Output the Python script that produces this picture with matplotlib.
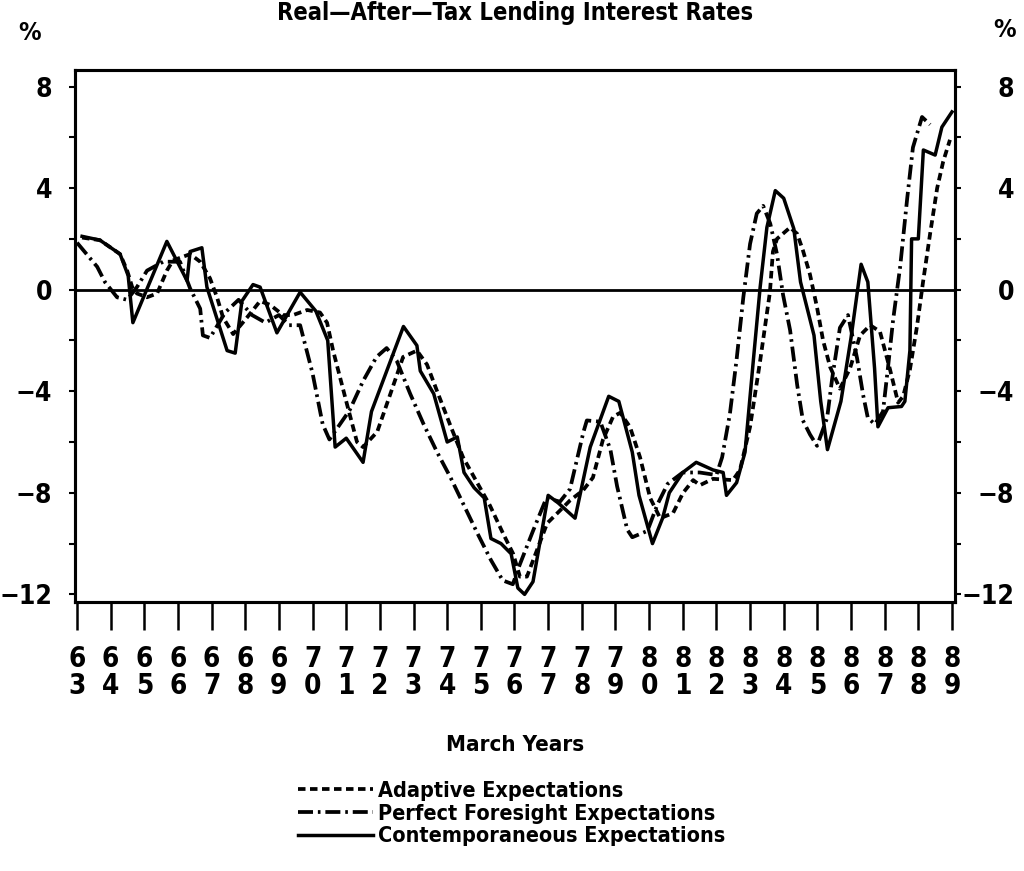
import matplotlib
matplotlib.use('Agg')
import matplotlib.pyplot as plt
from matplotlib import font_manager
from matplotlib.ticker import FixedLocator, FixedFormatter

plt.rcParams['font.family'] = ['Liberation Sans Narrow', 'DejaVu Sans']
plt.rcParams['font.weight'] = 'bold'
plt.rcParams['font.stretch'] = 'condensed'

# Contemporaneous expectations (solid)
cont_year = [63.15, 63.68, 64.28, 64.52, 64.66, 65.67, 66.27, 66.36, 66.71, 66.86,
             67.46, 67.7, 67.9, 68.23, 68.44, 68.94, 69.63, 70.1, 70.45, 70.67,
             71.0, 71.5, 71.75, 72.7, 73.1, 73.2, 73.6, 74.0, 74.3, 74.5,
             74.8, 75.1, 75.3, 75.6, 75.9, 76.1, 76.3, 76.55, 77.0, 77.3,
             77.8, 78.25, 78.8, 79.1, 79.5, 79.7, 80.1, 80.4, 80.6, 81.0,
             81.4, 81.9, 82.2, 82.3, 82.6, 82.85, 83.1, 83.3, 83.5, 83.75,
             84.0, 84.3, 84.5, 84.9, 85.1, 85.3, 85.7, 86.0, 86.3, 86.5,
             86.7, 86.8, 87.1, 87.5, 87.6, 87.75, 87.8, 88.0, 88.15, 88.5,
             88.7, 89.0]
cont_val = [2.1, 1.95, 1.4, 0.55, -1.3, 1.9, 0.35, 1.5, 1.65, 0.1,
            -2.4, -2.5, -0.45, 0.2, 0.1, -1.7, -0.1, -0.85, -2.0, -6.2,
            -5.85, -6.8, -4.8, -1.45, -2.2, -3.2, -4.1, -6.0, -5.8, -7.2,
            -7.8, -8.2, -9.8, -10.0, -10.4, -11.75, -12.0, -11.5, -8.1, -8.4,
            -9.0, -6.2, -4.2, -4.4, -6.4, -8.1, -10.0, -9.0, -8.0, -7.2,
            -6.8, -7.1, -7.2, -8.1, -7.6, -6.4, -2.75, 0.1, 2.45, 3.9,
            3.6, 2.4, 0.3, -1.8, -4.4, -6.3, -4.4, -1.9, 1.0, 0.3,
            -3.1, -5.4, -4.65, -4.6, -4.4, -2.4, 2.0, 2.0, 5.5, 5.3,
            6.4, 7.0]

# Perfect foresight expectations (dash-dot)
pf_year = [63.0, 63.6, 63.83, 64.19, 64.49, 64.78, 65.08, 65.56, 66.06, 66.36,
           66.66, 66.74, 66.95, 67.4, 67.8, 68.2, 68.6, 69.0, 69.3, 69.63,
           70.0, 70.3, 70.5, 71.1, 71.5, 71.9, 72.2, 72.5, 72.9, 73.3,
           73.7, 74.1, 74.5, 74.9, 75.3, 75.65, 75.95, 76.15, 76.55, 76.95,
           77.35, 77.65, 78.05, 78.15, 78.55, 78.85, 79.05, 79.35, 79.5, 79.95,
           80.25, 80.55, 81.0, 81.5, 82.0, 82.17, 82.4, 82.6, 82.8, 83.0,
           83.2, 83.39, 83.6, 83.8, 83.98, 84.19, 84.4, 84.57, 84.78, 84.99,
           85.29, 85.44, 85.67, 85.91, 86.18, 86.36, 86.5, 86.71, 86.95, 87.1,
           87.25, 87.46, 87.67, 87.84, 88.11, 88.35]
pf_val = [1.85, 0.9, 0.3, -0.3, -0.4, 0.1, 0.75, 1.1, 1.1, 0.05,
          -0.75, -1.8, -1.9, -0.9, -0.4, -1.0, -1.3, -1.0, -1.4, -1.4,
          -3.3, -5.3, -5.9, -4.75, -3.6, -2.65, -2.3, -2.8, -4.1, -5.3,
          -6.4, -7.4, -8.5, -9.6, -10.65, -11.45, -11.6, -10.85, -9.5, -8.2,
          -8.35, -7.85, -5.6, -5.15, -5.2, -6.3, -7.75, -9.45, -9.75, -9.5,
          -8.45, -7.65, -7.2, -7.2, -7.3, -6.6, -4.9, -2.75, -0.3, 1.8,
          3.0, 3.3, 2.6, 1.4, -0.2, -1.6, -3.75, -5.15, -5.7, -6.15,
          -5.05, -3.5, -1.5, -1.0, -2.7, -4.15, -5.05, -5.3, -4.8, -3.05,
          -1.2, 0.9, 3.6, 5.6, 6.8, 6.5]

# Adaptive expectations (short dashes)
ad_year = [63.15, 63.68, 64.28, 64.49, 64.64, 64.78, 65.08, 65.38, 65.67, 65.85,
           66.36, 66.66, 66.95, 67.16, 67.34, 67.64, 68.05, 68.44, 68.74, 69.12,
           69.42, 69.84, 70.22, 70.43, 70.61, 71.02, 71.32, 71.5, 71.92, 72.3,
           72.69, 73.1, 73.4, 73.7, 74.08, 74.47, 74.89, 75.27, 75.66, 75.96,
           76.16, 76.37, 76.67, 76.97, 77.35, 77.65, 78.04, 78.33, 78.63, 78.93,
           79.14, 79.43, 79.73, 80.03, 80.33, 80.71, 81.01, 81.31, 81.51, 81.9,
           82.49, 82.7, 83.0, 83.3, 83.59, 83.68, 83.8, 84.19, 84.4, 84.57,
           84.78, 84.99, 85.17, 85.38, 85.67, 85.97, 86.27, 86.57, 86.86, 87.16,
           87.4, 87.55, 87.75, 87.96, 88.14, 88.35, 88.56, 88.74, 88.94]
ad_val = [2.05, 1.95, 1.4, 0.75, 0.1, -0.15, -0.3, -0.15, 0.75, 1.15,
          1.4, 1.1, 0.45, -0.3, -1.1, -1.75, -1.1, -0.45, -0.6, -1.0,
          -1.0, -0.8, -0.9, -1.3, -2.4, -4.5, -6.0, -6.2, -5.6, -4.15,
          -2.65, -2.4, -2.95, -4.0, -5.3, -6.6, -7.6, -8.5, -9.6, -10.4,
          -11.3, -11.3, -10.25, -9.2, -8.7, -8.3, -7.9, -7.4, -5.9, -5.0,
          -4.85, -5.4, -6.6, -8.2, -9.0, -8.8, -8.0, -7.5, -7.7, -7.45,
          -7.5, -7.1, -5.4, -2.8, -0.1, 1.5, 2.0, 2.45, 2.2, 1.55,
          0.6, -0.7, -2.0, -3.05, -3.9, -3.1, -1.8, -1.4, -1.65, -3.15,
          -4.45, -4.2, -3.15, -1.45, 0.3, 2.2, 4.0, 5.05, 5.9]

years = list(range(63, 90))
ytick_pos = [-12, -10, -8, -6, -4, -2, 0, 2, 4, 6, 8]
ytick_labels = ['\u221212', '', '\u22128', '', '\u22124', '', '0', '', '4', '', '8']

# narrow font if one is there, else shrink the sizes
names = {f.name for f in font_manager.fontManager.ttflist}
narrow = 'Liberation Sans Narrow' in names or any(
    f.name == 'DejaVu Sans' and f.stretch == 'condensed' for f in font_manager.fontManager.ttflist)
k = 1.0 if narrow else 0.8

fig = plt.figure(figsize=(10.24, 8.71), dpi=100)
ax = fig.add_axes([75/1024, 1 - 602/871, 880/1024, 532/871])

l_ad, = ax.plot(ad_year, ad_val, color='black', lw=2.7, dashes=(2.0, 1.2))
l_pf, = ax.plot(pf_year, pf_val, color='black', lw=2.7, dashes=(4.0, 1.3, 0.7, 1.3))
l_co, = ax.plot(cont_year, cont_val, color='black', lw=2.5)
ax.axhline(0, color='black', lw=2.0)

ax.set_xlim(62.94, 89.09)
ax.set_ylim(-12.3, 8.65)
for s in ax.spines.values():
    s.set_linewidth(2.2)

ax.set_xticks(years)
ax.set_xticklabels([f'{y // 10}\n{y % 10}' for y in years], fontsize=20 * k,
                   fontweight='bold', linespacing=0.95 / k)
ax.tick_params(axis='x', direction='out', length=20, width=1.8, pad=11)

ax.yaxis.set_major_locator(FixedLocator(ytick_pos))
ax.yaxis.set_major_formatter(FixedFormatter(ytick_labels))
ax.tick_params(axis='y', direction='out', length=4.5, width=1.5, pad=12, labelsize=19 * k)

ax2 = ax.twinx()
ax2.set_ylim(ax.get_ylim())
ax2.yaxis.set_major_locator(FixedLocator(ytick_pos))
ax2.yaxis.set_major_formatter(FixedFormatter(ytick_labels))
ax2.tick_params(axis='y', direction='out', length=4.5, width=1.5, pad=38, labelsize=19 * k)
for lab in ax2.get_yticklabels():
    lab.set_horizontalalignment('right')
for s in ax2.spines.values():
    s.set_linewidth(2.2)

fig.text(0.503, 1 - 1/871, 'Real\u2014After\u2014Tax Lending Interest Rates',
         ha='center', va='top', fontsize=17 * k, fontweight='bold')
fig.text(30/1024, 1 - 33/871, '%', ha='center', va='center', fontsize=18 * k, fontweight='bold')
fig.text(1005/1024, 1 - 30/871, '%', ha='center', va='center', fontsize=18 * k, fontweight='bold')
fig.text(515/1024, 1 - 745/871, 'March Years', ha='center', va='center',
         fontsize=16 * k, fontweight='bold')

fig.legend([l_ad, l_pf, l_co],
           ['Adaptive Expectations', 'Perfect Foresight Expectations',
            'Contemporaneous Expectations'],
           loc='upper left', bbox_to_anchor=(298/1024, 1 - 781/871),
           frameon=False, fontsize=15.5 * k, handlelength=3.5 / k, handletextpad=0.2,
           labelspacing=0.12 + 0.3 * (1 - k), borderpad=0, borderaxespad=0)

fig.savefig('out.png', dpi=100)
